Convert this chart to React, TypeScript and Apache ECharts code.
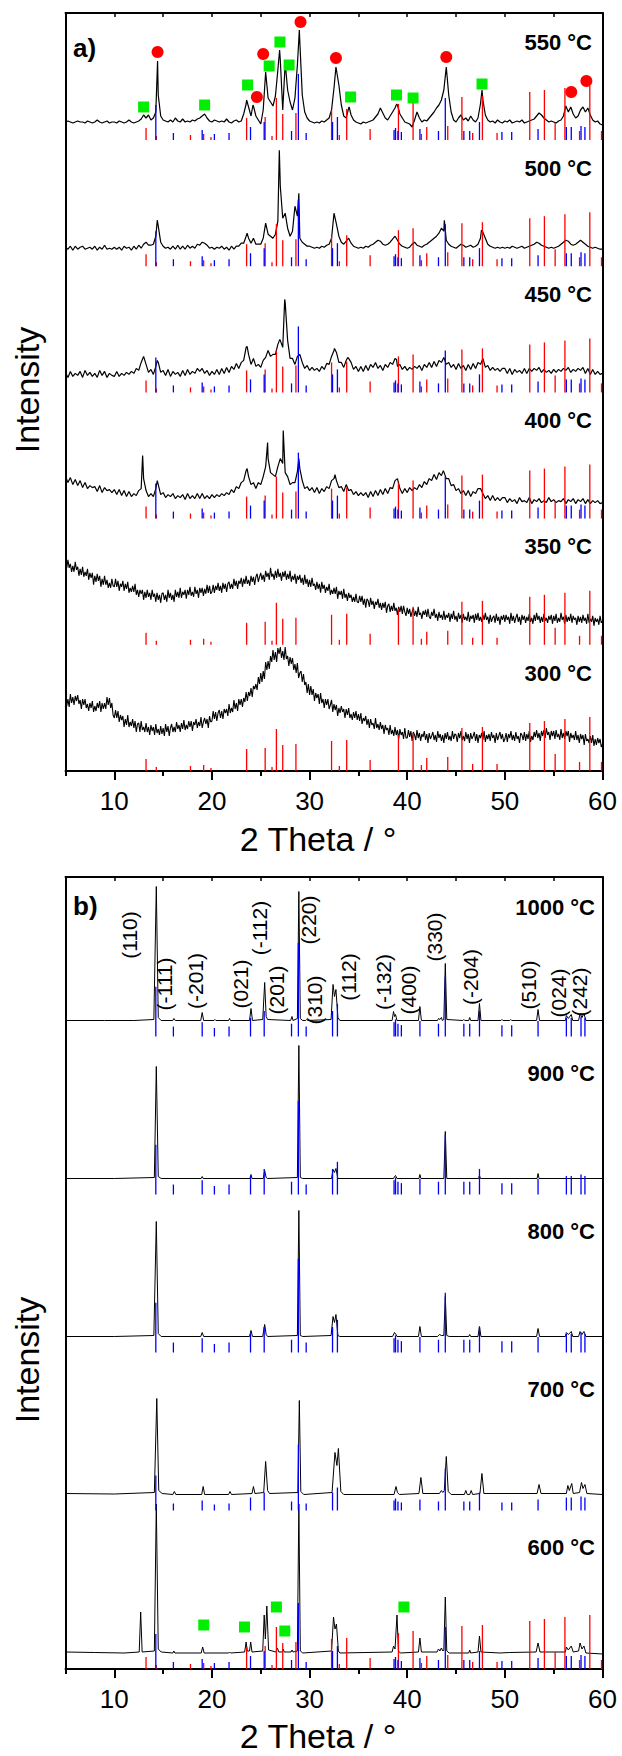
import React, { useEffect, useRef } from 'react';
import * as echarts from 'echarts';

const FONT = 'Arial, Liberation Sans, sans-serif';

// ---------------- Panel a ----------------
const TEMPS_A = ['550 °C', '500 °C', '450 °C', '400 °C', '350 °C', '300 °C'];
const GRID_START = 5;
const STEP_CRYST = 0.25;
const STEP_AMORPH = 0.125;

const CURVE_550 = [
  18,19,18,17,18,19,18,18,17,19,18,17,18,20,18,17,18,19,17,18,
  18,17,19,18,17,18,20,18,17,18,19,21,25,22,25,20,22,28,45,24,
  20,19,18,20,18,22,19,18,21,18,19,18,20,19,21,22,24,26,22,19,
  18,20,19,18,19,18,21,18,17,19,20,18,19,26,36,33,24,34,24,20,
  16,30,60,42,38,34,44,70,80,30,77,50,38,30,42,75,98,45,28,22,
  19,18,17,18,17,19,18,20,22,30,52,70,55,35,24,22,32,25,20,18,
  17,16,18,17,18,19,20,23,26,32,27,22,20,24,28,32,35,26,22,18,
  17,16,13,20,28,22,18,20,19,22,25,28,32,35,40,50,72,45,28,20,
  18,22,25,20,22,19,24,20,18,22,36,40,25,20,18,19,17,20,18,17,
  19,18,20,17,18,19,18,20,17,18,19,20,21,24,27,25,22,20,18,19,
  18,17,19,20,24,34,28,33,26,22,24,30,33,28,32,25,20,18,19,16,
  15,
];
const APEX_550 = [[14.43,79],[23.55,40],[24.2,35],[25.5,68],[26.93,90],[27.5,77],[28.95,110],[32.7,73],[34.05,33],[38.92,36],[44.0,73],[47.66,50]];

const CURVE_500 = [
  19,17,20,16,20,17,19,20,17,18,19,17,20,16,19,17,21,17,18,17,
  19,17,19,16,20,18,19,16,20,17,21,18,22,24,21,21,22,30,40,24,
  20,18,19,17,20,17,21,17,20,17,21,18,20,18,22,21,24,23,21,18,
  19,17,19,18,20,17,19,16,20,17,20,20,23,23,30,28,23,28,22,22,
  22,28,40,32,30,28,32,45,80,48,46,38,30,35,60,50,28,24,22,20,
  20,19,18,19,18,20,19,21,22,28,45,42,30,24,22,25,28,23,20,19,
  18,19,18,20,19,21,22,24,26,25,22,21,22,24,27,30,26,22,20,19,
  18,19,22,24,21,20,19,21,22,24,26,28,30,33,38,35,26,22,20,19,
  18,20,22,21,19,20,21,19,20,22,28,34,28,22,20,19,18,19,18,19,
  18,19,18,20,19,18,19,20,18,19,20,21,22,24,23,21,20,19,18,19,
  18,19,20,22,24,26,25,22,21,22,24,26,24,22,20,19,18,19,18,17,
  17,
];
const APEX_500 = [[14.4,46],[23.6,33],[25.5,43],[26.9,116],[27.5,53],[28.9,73],[32.5,53],[43.8,46],[47.6,36]];

const CURVE_450 = [
  20,15,21,16,19,17,21,15,22,17,20,16,19,15,22,17,21,15,19,17,
  16,21,16,19,17,20,18,21,19,24,22,30,36,28,20,23,18,26,30,20,
  22,17,23,16,21,18,20,16,22,17,23,18,21,19,24,21,24,19,22,17,
  21,18,23,18,24,19,25,20,26,23,29,24,30,32,45,38,28,34,26,28,
  25,32,35,42,36,38,38,48,52,45,90,52,34,34,28,36,38,30,24,27,
  22,25,22,24,21,26,23,29,28,36,42,40,30,30,25,32,34,30,23,26,
  21,26,21,27,22,28,25,30,24,27,22,28,25,30,28,34,26,28,23,26,
  22,25,23,26,24,27,22,28,25,30,25,31,26,32,30,35,28,30,25,28,
  23,29,24,27,22,28,23,29,24,30,28,34,25,27,22,25,22,24,21,24,
  24,19,24,18,23,20,22,19,24,19,24,21,24,22,25,20,23,20,22,19,
  23,20,23,21,24,22,25,20,23,21,24,22,25,19,24,18,23,18,21,18,
  19,
];
const APEX_450 = [[13.0,36],[14.4,32],[23.6,46],[25.8,42],[26.95,53],[27.45,93],[32.55,44],[33.9,35],[38.9,33],[43.8,35]];

const CURVE_400 = [
  42,36,41,34,39,33,38,31,36,30,33,31,32,27,33,26,31,28,29,26,
  29,24,29,23,28,22,27,22,25,23,28,30,40,28,22,25,22,30,34,24,
  26,21,24,22,25,20,23,21,24,19,25,20,23,20,25,20,25,20,23,20,
  24,21,24,22,25,23,26,24,29,26,32,30,36,38,48,42,34,36,30,36,
  34,42,52,60,46,44,42,52,60,55,46,42,34,36,36,47,50,38,30,32,
  28,31,26,31,25,30,27,32,30,38,40,38,31,32,27,34,28,29,24,27,
  23,26,23,26,21,27,22,28,23,29,24,30,25,31,30,38,30,30,25,30,
  26,31,28,31,29,34,31,37,34,40,38,44,39,46,43,48,40,40,33,34,
  28,30,25,28,23,28,22,27,25,30,24,25,20,23,18,23,18,21,18,21,
  21,16,20,17,19,15,21,17,18,16,21,15,19,17,20,16,18,16,21,17,
  19,16,18,17,20,15,19,17,20,15,19,17,20,15,19,15,18,16,18,15,
  16,
];
const APEX_400 = [[12.9,63],[14.4,38],[23.6,50],[25.7,76],[27.3,88],[28.9,60],[32.6,44],[39.0,40],[43.7,48],[47.5,30]];

const CURVE_350 = [
  84,77,85,77,81,73,79,73,83,75,78,69,76,70,78,68,73,69,76,65,72,67,72,60,69,63,71,64,69,58,66,60,69,60,65,57,62,57,66,59,
  58,66,58,64,54,61,58,64,54,61,56,63,52,57,53,59,53,61,50,55,48,55,51,55,45,53,47,55,48,52,45,55,48,51,43,52,45,50,42,51,
  52,45,50,43,55,47,52,45,50,43,55,48,53,47,57,47,53,50,55,46,55,50,58,49,53,48,58,51,55,47,57,52,57,49,56,51,60,52,59,51,
  53,60,52,59,55,62,54,59,52,62,56,61,53,61,63,56,61,56,66,59,64,56,64,61,67,58,66,61,69,61,65,59,69,63,68,60,68,71,63,68,
  72,65,70,63,74,68,72,65,77,68,71,65,74,67,76,68,72,64,73,68,74,65,71,66,74,63,69,65,71,61,69,65,70,62,67,60,70,61,66,58,
  65,58,67,59,61,55,63,56,61,52,63,56,60,52,58,54,61,50,55,51,57,51,58,46,54,50,54,46,56,47,51,44,52,47,50,43,48,43,51,43,
  42,49,43,49,40,46,37,46,44,38,47,40,44,36,43,40,46,37,42,35,42,37,43,32,39,41,33,39,34,42,34,37,30,38,33,39,31,39,33,29,
  37,31,36,28,33,37,29,34,28,38,30,32,26,34,30,35,28,36,28,26,33,29,36,27,31,24,33,27,30,25,34,25,30,27,32,23,31,26,34,25,
  29,23,32,26,30,22,31,25,28,24,33,23,29,26,30,22,31,25,32,24,28,23,30,25,32,25,28,21,30,23,27,29,22,31,24,28,20,29,25,30,
  23,30,25,28,21,32,24,29,22,27,31,23,28,20,30,25,29,22,28,24,31,23,27,21,30,24,32,25,29,22,28,23,31,24,27,22,29,25,30,21,
  29,24,31,22,27,23,32,25,28,21,30,23,28,24,31,22,29,25,27,20,29,23,28,22,30,24,27,21,31,22,26,23,29,19,27,23,26,20,29,22,
  24,
];

const CURVE_300 = [
  74,65,72,64,77,68,74,66,75,70,76,67,71,62,72,66,72,63,67,60,68,63,70,59,65,60,68,63,70,59,68,62,68,62,74,66,73,63,68,56,
  53,61,53,60,49,56,51,55,44,52,46,56,44,49,45,52,43,50,39,47,48,39,50,41,44,39,48,39,44,36,46,40,44,36,47,38,42,36,45,37,
  43,35,47,39,45,35,43,47,39,44,39,49,42,46,39,48,42,51,41,46,42,50,44,50,40,49,46,52,43,49,45,54,43,49,53,47,52,43,55,49,
  50,60,52,59,50,58,61,53,60,52,62,58,62,55,67,58,63,59,71,62,68,60,72,66,72,64,73,69,79,70,79,75,83,74,85,82,87,81,94,87,
  98,89,100,92,109,101,110,102,115,109,121,111,119,109,123,117,124,113,120,111,124,112,115,105,114,107,113,101,107,98,108,93,98,100,89,97,86,89,78,87,
  76,85,76,82,70,78,73,77,67,78,68,72,63,72,66,72,62,66,71,59,67,61,66,55,63,58,65,59,62,53,62,56,63,53,57,51,59,53,60,51,
  57,50,58,47,53,50,55,46,52,43,52,46,48,42,53,43,47,41,49,42,46,37,46,41,43,36,46,37,41,35,44,36,41,32,42,36,39,32,43,33,
  33,41,34,40,30,39,36,31,41,33,38,30,37,34,40,31,37,28,38,32,35,39,31,36,29,40,33,37,30,36,28,38,32,39,31,35,30,40,32,37,
  36,29,38,33,40,31,35,30,39,32,37,28,38,32,35,39,30,37,28,36,33,38,31,40,29,36,32,37,30,39,33,36,28,38,31,35,39,32,37,29,
  32,38,29,37,33,40,31,36,30,39,32,35,28,38,36,31,39,30,37,32,40,29,35,31,39,34,41,33,38,30,40,35,41,33,43,36,39,31,40,35,
  40,32,41,34,37,31,42,33,38,32,40,35,40,29,38,33,36,31,40,31,36,28,37,32,36,26,37,30,32,28,35,28,36,25,32,26,33,28,32,24,
  27,
];

const CIRCLES_550 = [[14.43,88],[24.6,43],[25.25,86],[29.07,118],[32.7,82],[44.0,83],[56.8,48],[58.35,59]];
const SQUARES_550 = [[13.0,33],[19.25,35],[23.65,55],[25.86,74],[26.96,98],[27.9,75],[34.2,43],[38.9,45],[40.6,42],[47.66,56]];

// reference patterns (stick heights)
const RED_POS = [13.25,14.3,17.8,19.15,19.9,23.55,25.45,26.15,26.6,27.25,28.6,32.25,33.05,33.8,36.2,39.1,40.6,41.45,42.0,44.15,45.6,46.7,47.7,49.2,52.55,54.05,55.15,56.15,57.65,58.7,59.9];
const RED_H = [12,4,5,6,3,22,23,4,42,26,27,30,5,31,11,36,38,6,13,14,43,7,44,7,48,50,17,52,9,54,9];
const BLUE_POS = [14.25,16.05,19.0,20.25,21.75,23.95,25.35,28.15,28.85,29.65,32.35,32.85,38.65,38.8,39.05,39.4,41.3,43.2,43.9,45.8,46.4,47.4,49.7,50.7,53.4,56.3,56.8,57.8,58.2];
const BLUE_H = [35,7,10,6,7,13,18,9,66,7,18,23,10,12,9,8,11,9,42,9,9,18,8,8,11,13,13,14,13];

// ---------------- Panel b ----------------
const TEMPS_B = ['1000 °C', '900 °C', '800 °C', '700 °C', '600 °C'];

const PTS_1000 = [[5,16],[9,16],[12,16],[14.05,17],[14.3,150],[14.5,19],[14.8,16],[16.0,16],[16.1,18],[16.25,16],[18.85,16],[19.0,24],[19.15,16],[20.2,16],[20.3,17],[20.4,16],[21.7,16],[21.8,18],[21.9,16],[23.85,16],[24.0,28],[24.15,16],[25.2,17],[25.4,54],[25.55,20],[25.7,17],[28.05,16],[28.2,20],[28.3,16],[28.75,18],[28.9,145],[29.05,18],[29.3,16],[29.6,16],[29.7,17],[29.8,16],[32.2,17],[32.4,52],[32.55,40],[32.7,47],[32.9,19],[33.1,16],[38.45,16],[38.6,25],[38.7,20],[38.8,22],[38.95,16],[41.15,16],[41.3,30],[41.45,16],[43.1,16],[43.2,18],[43.35,17],[43.5,19],[43.6,16],[43.75,17],[43.9,73],[44.05,17],[45.7,16],[45.8,17],[45.9,16],[46.3,16],[46.4,19],[46.5,16],[47.25,16],[47.4,33],[47.55,16],[49.6,16],[49.7,17],[49.8,16],[50.5,16],[50.6,17],[50.7,16],[53.25,16],[53.4,27],[53.55,16],[56.2,16],[56.3,21],[56.5,18],[56.8,22],[56.95,16],[57.55,16],[57.7,23],[57.9,19],[58.1,23],[58.3,16],[60,16]];
const PTS_900 = [[5,16],[10,16],[14.1,17],[14.3,128],[14.5,18],[14.8,16],[18.9,16],[19.0,18],[19.1,16],[23.9,16],[24.0,20],[24.1,16],[25.25,16],[25.4,24],[25.55,17],[25.7,16],[28.75,17],[28.9,149],[29.05,17],[29.3,16],[32.25,16],[32.4,25],[32.55,22],[32.7,26],[32.9,16],[38.6,16],[38.7,18],[38.8,19],[38.95,16],[41.2,16],[41.3,20],[41.4,16],[43.75,16],[43.9,63],[44.05,16],[47.3,16],[47.4,19],[47.5,16],[53.3,16],[53.4,21],[53.5,16],[60,16]];
const PTS_800 = [[5,16],[10,16],[14.05,17],[14.3,131],[14.5,19],[14.8,16],[18.85,16],[19.0,20],[19.15,16],[23.85,16],[24.0,22],[24.15,16],[25.2,16],[25.4,28],[25.55,18],[25.7,16],[28.75,17],[28.9,142],[29.05,17],[29.3,16],[32.2,17],[32.4,36],[32.55,30],[32.7,38],[32.9,17],[33.1,16],[38.5,16],[38.7,20],[38.85,18],[38.95,16],[41.15,16],[41.3,26],[41.45,16],[43.1,16],[43.3,18],[43.5,17],[43.75,17],[43.9,56],[44.05,17],[44.3,16],[46.3,16],[46.4,18],[46.5,16],[47.25,16],[47.4,26],[47.55,16],[53.25,16],[53.4,24],[53.55,16],[56.2,16],[56.3,20],[56.5,18],[56.8,21],[56.95,16],[57.55,16],[57.7,21],[57.9,18],[58.1,21],[58.3,16],[60,16]];
const PTS_700 = [[5,17],[10,16.5],[14.1,18],[14.35,112],[14.55,20],[14.9,17],[16.0,16],[16.15,19],[16.3,16],[18.95,16],[19.1,24],[19.25,16],[21.7,16],[21.85,19],[22.0,16],[24.1,17],[24.25,24],[24.4,17],[25.3,18],[25.5,49],[25.7,20],[25.9,17],[28.8,18],[28.95,110],[29.1,19],[29.4,16],[32.3,18],[32.6,58],[32.8,45],[32.95,62],[33.2,19],[33.5,16],[38.65,16],[38.85,24],[39.0,18],[39.2,16],[41.2,17],[41.4,33],[41.6,17],[43.3,17],[43.5,20],[43.65,18],[43.8,20],[44.0,54],[44.2,19],[44.5,16],[45.85,16],[46.0,20],[46.15,16],[46.4,16],[46.55,20],[46.7,16],[47.45,17],[47.65,37],[47.85,17],[53.3,17],[53.5,26],[53.7,17],[56.3,17],[56.45,25],[56.6,20],[56.85,27],[57.0,17],[57.65,18],[57.85,28],[58.0,22],[58.2,26],[58.4,17],[60,16]];
const PTS_600 = [[5,17],[8,16.5],[11,16],[12.55,17],[12.7,57],[12.85,17],[14.1,18],[14.3,165],[14.5,20],[14.8,17],[16.0,16],[16.1,18],[16.2,16],[18.9,16],[19.05,22],[19.2,16],[21.7,16],[21.8,17],[21.9,16],[23.35,17],[23.5,27],[23.62,18],[23.85,18],[23.97,27],[24.1,17],[25.2,18],[25.35,54],[25.47,30],[25.62,63],[25.8,19],[26.55,17],[26.7,21],[26.85,17],[27.2,17],[27.3,20],[27.4,17],[28.1,17],[28.2,19],[28.3,17],[28.75,18],[28.9,165],[29.05,18],[29.3,16],[32.25,18],[32.45,52],[32.6,40],[32.75,45],[32.95,18],[33.1,16],[38.45,17],[38.6,23],[38.75,20],[38.95,54],[39.1,18],[39.3,16],[41.15,17],[41.3,31],[41.45,17],[43.05,17],[43.2,20],[43.35,18],[43.5,21],[43.65,18],[43.75,19],[43.9,72],[44.05,18],[44.3,16],[46.3,16],[46.4,19],[46.5,16],[47.25,17],[47.4,33],[47.55,17],[49.5,16],[50.5,16.5],[53.2,17],[53.4,26],[53.6,17],[56.2,17],[56.3,22],[56.5,19],[56.8,23],[57.0,17],[57.55,18],[57.7,26],[57.9,20],[58.1,23],[58.3,16],[60,15]];

const SQUARES_600 = [[19.16,44],[23.33,42],[26.6,62],[27.46,38],[39.66,62]];
const BLUE_SCALE_B = [1.42, 1.42, 1.42, 1.0, 1.0];

const MILLER = ['(110)','(-111)','(-201)','(021)','(-112)','(201)','(310)','(220)','(112)','(-132)','(400)','(330)','(-204)','(510)','(024)','(242)'];
const MILLER_POS = [[11.6,734],[15.15,685],[18.3,688],[22.9,685],[24.9,741],[26.6,679],[30.46,669],[29.85,749],[34.0,692],[37.6,687],[40.1,679],[42.8,732],[46.5,692],[52.4,684],[55.5,676],[57.6,677]];

const MAJOR = [10, 20, 30, 40, 50, 60];
const MINOR = [5, 15, 25, 35, 45, 55];

// ---------------- layout ----------------
const W = 622, H = 1756;
const GL = 65.5, GR = 602.5;
const A_TOP = 13, A_BOT = 771;
const B_TOP = 877, B_BOT = 1669;
const A_OFF = [631, 504.8, 378.6, 252.4, 126.2, 0];
const A_BLUE = [true, true, true, true, false, false];
const B_OFF = [632.5, 474.5, 316.5, 158.5, 0];

function gridCurve(values: number[], apex: number[][], off: number, step: number) {
  const pts = values.map((v, i) => [GRID_START + i * step, v]);
  const kept = pts.filter(p => !apex.some(a => Math.abs(a[0] - p[0]) < 0.01));
  return [...kept, ...apex].sort((a, b) => a[0] - b[0]).map(p => [p[0], p[1] + off]);
}

function shift(pts: number[][], off: number) {
  return pts.map(p => [p[0], p[1] + off]);
}

function stickSeries(pos: number[], h: number[], scale: number, off: number, color: string, xi: number, yi: number) {
  return {
    type: 'custom',
    xAxisIndex: xi,
    yAxisIndex: yi,
    silent: true,
    z: 3,
    encode: { x: 0, y: [1, 2] },
    data: pos.map((x, i) => [x, off, off + h[i] * scale]),
    renderItem: (_p: any, api: any) => {
      const a = api.coord([api.value(0), api.value(1)]);
      const b = api.coord([api.value(0), api.value(2)]);
      return {
        type: 'line',
        shape: { x1: a[0], y1: a[1], x2: b[0], y2: b[1] },
        style: { stroke: color, lineWidth: 1.3 },
      };
    },
  };
}

function lineSeries(data: number[][], xi: number, yi: number, width: number) {
  return {
    type: 'line',
    xAxisIndex: xi,
    yAxisIndex: yi,
    data,
    symbol: 'none',
    silent: true,
    z: 2,
    lineStyle: { color: '#000', width },
  };
}

function scatter(data: number[][], off: number, symbol: string, size: number, color: string, xi: number, yi: number) {
  return {
    type: 'scatter',
    xAxisIndex: xi,
    yAxisIndex: yi,
    symbol,
    symbolSize: size,
    silent: true,
    z: 5,
    itemStyle: { color, opacity: 1 },
    data: shift(data, off),
  };
}

function xAxesFor(gi: number) {
  const common = { gridIndex: gi, type: 'value', min: 5, max: 60, interval: 5, splitLine: { show: false } };
  return [
    {
      ...common,
      position: 'bottom',
      axisLine: { show: true, onZero: false, lineStyle: { color: '#000', width: 2 } },
      axisTick: { show: true, inside: false, length: 9, customValues: MAJOR, lineStyle: { color: '#000', width: 2 } },
      axisLabel: { show: true, customValues: MAJOR, fontSize: 26, color: '#000', fontFamily: FONT, margin: 17 },
    },
    {
      ...common,
      position: 'bottom',
      axisLine: { show: false },
      axisTick: { show: true, inside: false, length: 5, customValues: MINOR, lineStyle: { color: '#000', width: 2 } },
      axisLabel: { show: false },
    },
    {
      ...common,
      position: 'top',
      axisLine: { show: true, onZero: false, lineStyle: { color: '#000', width: 2 } },
      axisTick: { show: true, inside: true, length: 4, lineStyle: { color: '#000', width: 1.5 } },
      axisLabel: { show: false },
    },
  ];
}

function yAxesFor(gi: number, max: number) {
  const common = { gridIndex: gi, type: 'value', min: 0, max, splitLine: { show: false }, axisTick: { show: false }, axisLabel: { show: false } };
  return [
    { ...common, position: 'left', axisLine: { show: true, onZero: false, lineStyle: { color: '#000', width: 2 } } },
    { ...common, position: 'right', axisLine: { show: true, onZero: false, lineStyle: { color: '#000', width: 2 } } },
  ];
}

function buildOption() {
  const series: any[] = [];
  const curvesA = [CURVE_550, CURVE_500, CURVE_450, CURVE_400, CURVE_350, CURVE_300];
  const apexA = [APEX_550, APEX_500, APEX_450, APEX_400, [], []];
  const stepA = [STEP_CRYST, STEP_CRYST, STEP_CRYST, STEP_CRYST, STEP_AMORPH, STEP_AMORPH];
  curvesA.forEach((c, k) => {
    series.push(stickSeries(RED_POS, RED_H, 1, A_OFF[k], '#ff0000', 0, 0));
    if (A_BLUE[k]) series.push(stickSeries(BLUE_POS, BLUE_H, 1, A_OFF[k], '#0000ff', 0, 0));
    series.push(lineSeries(gridCurve(c, apexA[k], A_OFF[k], stepA[k]), 0, 0, k >= 4 ? 1.1 : 1.2));
  });
  series.push(scatter(CIRCLES_550, A_OFF[0], 'circle', 12, '#ff0000', 0, 0));
  series.push(scatter(SQUARES_550, A_OFF[0], 'rect', 11, '#00ee00', 0, 0));

  const curvesB = [PTS_1000, PTS_900, PTS_800, PTS_700, PTS_600];
  curvesB.forEach((c, k) => {
    if (k === 4) series.push(stickSeries(RED_POS, RED_H, 1, B_OFF[k], '#ff0000', 3, 2));
    series.push(lineSeries(shift(c, B_OFF[k]), 3, 2, 1));
    series.push(stickSeries(BLUE_POS, BLUE_H, BLUE_SCALE_B[k], B_OFF[k], '#0000ff', 3, 2));
  });
  series.push(scatter(SQUARES_600, B_OFF[4], 'rect', 11, '#00ee00', 3, 2));

  series.push({
    type: 'custom',
    xAxisIndex: 3,
    yAxisIndex: 2,
    silent: true,
    z: 6,
    data: MILLER_POS,
    renderItem: (p: any, api: any) => {
      const c = api.coord([api.value(0), api.value(1)]);
      return {
        type: 'text',
        x: c[0],
        y: c[1],
        rotation: Math.PI / 2,
        style: { text: MILLER[p.dataIndex], fontSize: 21, fontFamily: FONT, fill: '#000', align: 'center', verticalAlign: 'middle' },
      };
    },
  });

  const graphic: any[] = [];
  const txt = (text: string, x: number, y: number, size: number, bold: boolean, align: string, rot = 0) => ({
    type: 'text', x, y, rotation: rot, z: 100,
    style: { text, fontSize: size, fontWeight: bold ? 'bold' : 'normal', fontFamily: FONT, fill: '#000', align, verticalAlign: 'middle' },
  });
  TEMPS_A.forEach((t, k) => graphic.push(txt(t, 592, 42 + k * 126.2, 22, true, 'right')));
  const bLabelY = [907, 1073, 1231, 1389, 1547];
  TEMPS_B.forEach((t, k) => graphic.push(txt(t, 595, bLabelY[k], 22, true, 'right')));
  graphic.push(txt('a)', 73, 48, 26, true, 'left'));
  graphic.push(txt('b)', 73, 906, 26, true, 'left'));
  graphic.push(txt('Intensity', 27, 390, 34, false, 'center', Math.PI / 2));
  graphic.push(txt('Intensity', 27, 1360, 34, false, 'center', Math.PI / 2));
  graphic.push(txt('2 Theta / °', 318, 839, 34, false, 'center'));
  graphic.push(txt('2 Theta / °', 318, 1736, 34, false, 'center'));

  return {
    animation: false,
    backgroundColor: '#fff',
    grid: [
      { left: GL, top: A_TOP, width: GR - GL, height: A_BOT - A_TOP },
      { left: GL, top: B_TOP, width: GR - GL, height: B_BOT - B_TOP },
    ],
    xAxis: [...xAxesFor(0), ...xAxesFor(1)],
    yAxis: [...yAxesFor(0, A_BOT - A_TOP), ...yAxesFor(1, B_BOT - B_TOP)],
    series,
    graphic,
  };
}

export default function App() {
  const ref = useRef<HTMLDivElement>(null);
  useEffect(() => {
    document.body.style.margin = '0';
    if (!ref.current) return;
    const chart = echarts.init(ref.current, null, { renderer: 'svg' });
    chart.setOption(buildOption() as any);
    return () => chart.dispose();
  }, []);
  return <div ref={ref} style={{ width: W, height: H }} />;
}
